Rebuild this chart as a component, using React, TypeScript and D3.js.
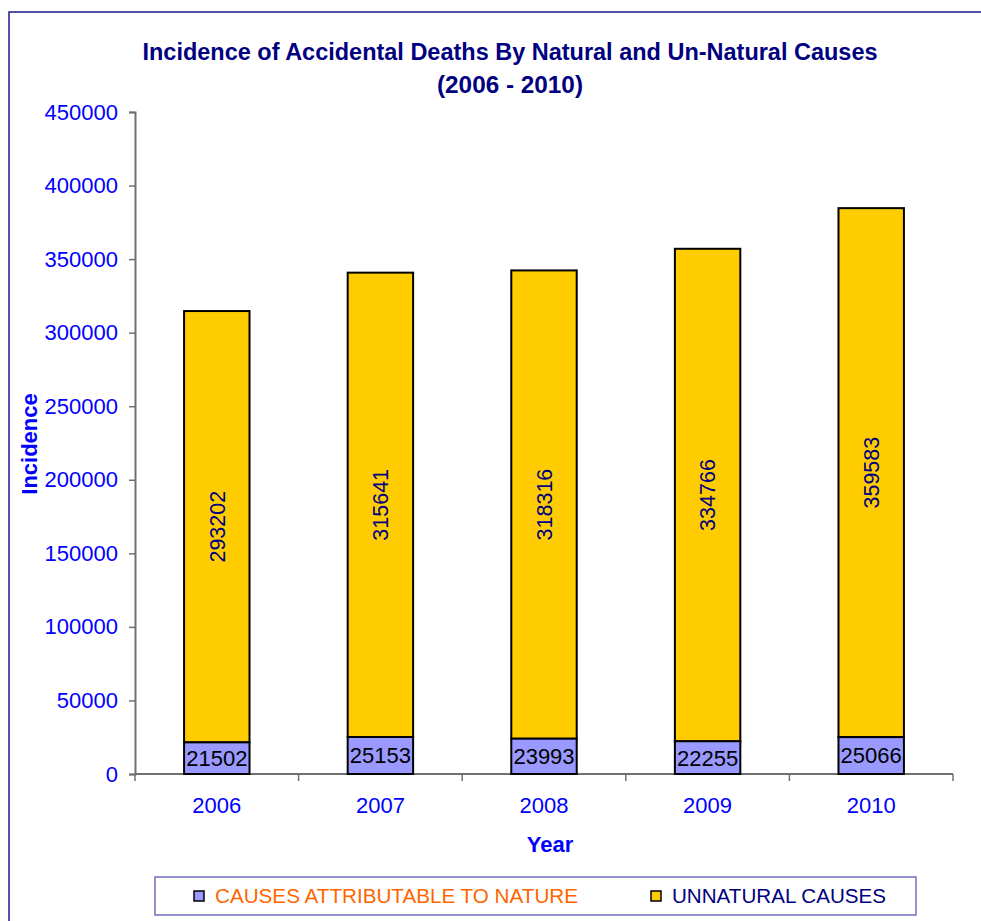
import React, { useRef, useEffect } from 'react';
import * as d3 from 'd3';

const years = ['2006', '2007', '2008', '2009', '2010'];
const natureValues = [21502, 25153, 23993, 22255, 25066];
const unnaturalValues = [293202, 315641, 318316, 334766, 359583];
const yTicks = [0, 50000, 100000, 150000, 200000, 250000, 300000, 350000, 400000, 450000];
const seriesNames = ['CAUSES ATTRIBUTABLE TO NATURE', 'UNNATURAL CAUSES'];

const W = 981;
const H = 921;
const FONT = '"Liberation Sans", Arial, sans-serif';

const App: React.FC = () => {
  const svgRef = useRef<SVGSVGElement | null>(null);

  useEffect(() => {
    if (!svgRef.current) return;
    const svg = d3.select(svgRef.current);
    svg.selectAll('*').remove();

    const margin = { top: 112, left: 135, right: 28, bottom: 147 };
    const innerW = W - margin.left - margin.right;
    const innerH = H - margin.top - margin.bottom;

    // outer chart frame
    svg.append('rect')
      .attr('x', 9).attr('y', 12)
      .attr('width', W + 10).attr('height', H + 10)
      .attr('fill', 'white')
      .attr('stroke', '#1a1a8c')
      .attr('stroke-width', 1.5);

    // title
    svg.append('text')
      .attr('x', 510).attr('y', 60)
      .attr('text-anchor', 'middle')
      .attr('font-family', FONT).attr('font-weight', 'bold').attr('font-size', 23)
      .attr('fill', '#000080')
      .attr('textLength', 735).attr('lengthAdjust', 'spacingAndGlyphs')
      .text('Incidence of Accidental Deaths By Natural and Un-Natural Causes');
    svg.append('text')
      .attr('x', 510).attr('y', 93)
      .attr('text-anchor', 'middle')
      .attr('font-family', FONT).attr('font-weight', 'bold').attr('font-size', 23)
      .attr('fill', '#000080')
      .attr('textLength', 146).attr('lengthAdjust', 'spacingAndGlyphs')
      .text('(2006 - 2010)');

    const g = svg.append('g').attr('transform', `translate(${margin.left},${margin.top})`);

    const x = d3.scaleBand().domain(years).range([0, innerW]).paddingInner(0.6).paddingOuter(0.3);
    const xOuter = d3.scaleBand().domain(years).range([0, innerW]);
    const y = d3.scaleLinear().domain([0, 450000]).range([innerH, 0]);

    // y axis
    const yAxis = g.append('g').call(
      d3.axisLeft(y).tickValues(yTicks).tickSize(6).tickPadding(11).tickFormat(d3.format('d'))
    );
    yAxis.select('.domain').attr('stroke', '#707070').attr('stroke-width', 2);
    yAxis.selectAll('.tick line').attr('stroke', '#707070').attr('stroke-width', 1.5);
    yAxis.selectAll('.tick text')
      .attr('font-family', FONT).attr('font-size', 22).attr('fill', '#0000FF');

    // x axis
    const xAxisG = g.append('g').attr('transform', `translate(0,${innerH})`);
    xAxisG.append('line')
      .attr('x1', 0).attr('x2', innerW).attr('y1', 0).attr('y2', 0)
      .attr('stroke', '#707070').attr('stroke-width', 2);
    const bounds = years.map(d => xOuter(d) || 0).concat([innerW]);
    xAxisG.selectAll('.xt').data(bounds).enter().append('line')
      .attr('x1', d => d).attr('x2', d => d).attr('y1', 0).attr('y2', 7)
      .attr('stroke', '#707070').attr('stroke-width', 1.5);
    xAxisG.selectAll('.xl').data(years).enter().append('text')
      .attr('x', d => (xOuter(d) || 0) + xOuter.bandwidth() / 2)
      .attr('y', 39)
      .attr('text-anchor', 'middle')
      .attr('font-family', FONT).attr('font-size', 22).attr('fill', '#0000FF')
      .text(d => d);

    // bars
    years.forEach((yr, i) => {
      const bx = x(yr) || 0;
      const bw = x.bandwidth();
      const n = natureValues[i];
      const u = unnaturalValues[i];
      g.append('rect')
        .attr('x', bx).attr('y', y(n + u))
        .attr('width', bw).attr('height', y(n) - y(n + u))
        .attr('fill', '#FFCC00').attr('stroke', '#000').attr('stroke-width', 2);
      g.append('rect')
        .attr('x', bx).attr('y', y(n))
        .attr('width', bw).attr('height', y(0) - y(n))
        .attr('fill', '#9999FF').attr('stroke', '#000').attr('stroke-width', 2);
      g.append('text')
        .attr('x', bx + bw / 2).attr('y', (y(n) + y(0)) / 2)
        .attr('dy', '0.36em')
        .attr('text-anchor', 'middle')
        .attr('font-family', FONT).attr('font-size', 22).attr('fill', '#000')
        .text(String(n));
      const cy = (y(n) + y(n + u)) / 2;
      g.append('text')
        .attr('transform', `translate(${bx + bw / 2},${cy}) rotate(-90)`)
        .attr('dy', '0.36em')
        .attr('text-anchor', 'middle')
        .attr('font-family', FONT).attr('font-size', 21.5).attr('fill', '#000080')
        .text(String(u));
    });

    // axis titles
    svg.append('text')
      .attr('x', 550).attr('y', 852)
      .attr('text-anchor', 'middle')
      .attr('font-family', FONT).attr('font-weight', 'bold').attr('font-size', 22)
      .attr('fill', '#0000FF')
      .text('Year');
    svg.append('text')
      .attr('transform', `translate(37,444) rotate(-90)`)
      .attr('text-anchor', 'middle')
      .attr('font-family', FONT).attr('font-weight', 'bold').attr('font-size', 22)
      .attr('fill', '#0000FF')
      .text('Incidence');

    // legend
    const lg = svg.append('g');
    lg.append('rect')
      .attr('x', 155).attr('y', 877).attr('width', 761).attr('height', 38)
      .attr('fill', 'white').attr('stroke', '#7070c0').attr('stroke-width', 1.5);
    const legendItems = [
      { name: seriesNames[0], fill: '#9999FF', color: '#FF6600', sx: 194, tx: 215, tl: 363 },
      { name: seriesNames[1], fill: '#FFCC00', color: '#000080', sx: 651, tx: 672, tl: 214 },
    ];
    legendItems.forEach(it => {
      lg.append('rect')
        .attr('x', it.sx).attr('y', 891).attr('width', 10).attr('height', 10)
        .attr('fill', it.fill).attr('stroke', '#000').attr('stroke-width', 1.5);
      lg.append('text')
        .attr('x', it.tx).attr('y', 903)
        .attr('font-family', FONT).attr('font-size', 20).attr('fill', it.color)
        .attr('textLength', it.tl).attr('lengthAdjust', 'spacingAndGlyphs')
        .text(it.name);
    });
  }, []);

  return (
    <svg
      ref={svgRef}
      width={W}
      height={H}
      style={{ position: 'absolute', left: 0, top: 0, display: 'block', background: 'white' }}
    />
  );
};

export default App;
